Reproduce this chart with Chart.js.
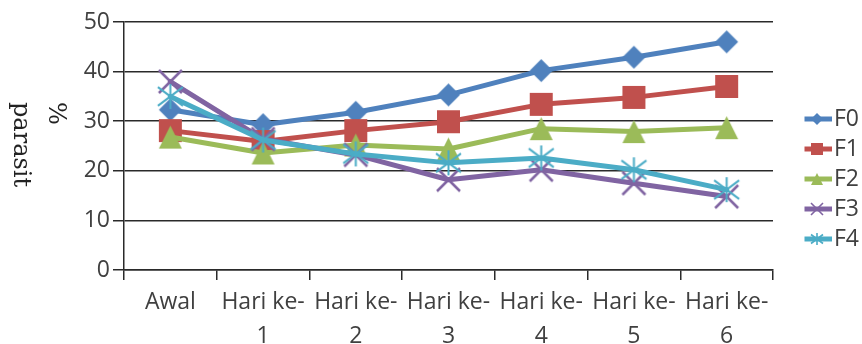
<!DOCTYPE html>
<html>
<head>
<meta charset="utf-8">
<title>% parasit</title>
<script src="https://cdn.jsdelivr.net/npm/chart.js@4/dist/chart.umd.min.js"></script>
<style>
  html, body { margin: 0; padding: 0; background: #ffffff; }
  canvas { display: block; }
</style>
</head>
<body>
<canvas id="chart" width="862" height="344"></canvas>
<script>
// ---- data ----
const categories = [['Awal'], ['Hari ke-', '1'], ['Hari ke-', '2'], ['Hari ke-', '3'],
                    ['Hari ke-', '4'], ['Hari ke-', '5'], ['Hari ke-', '6']];
const seriesNames = ['F0', 'F1', 'F2', 'F3', 'F4'];
const f0 = [32.3, 29.3, 31.8, 35.3, 40.2, 42.9, 46.0];
const f1 = [28.1, 25.9, 28.1, 29.9, 33.4, 34.8, 37.0];
const f2 = [26.8, 23.6, 25.2, 24.4, 28.5, 27.9, 28.7];
const f3 = [38.0, 26.4, 23.2, 18.2, 20.2, 17.5, 14.8];
const f4 = [35.0, 26.2, 23.4, 21.6, 22.6, 20.2, 16.2];
const yTickValues = [0, 10, 20, 30, 40, 50];
const axisTitleLines = ['%', 'parasit'];

// ---- styles ----
const seriesColors = ['#4F81BD', '#C0504D', '#9BBB59', '#8064A2', '#4BACC6'];
const markerShapes = ['diamond', 'square', 'triangle', 'x', 'star'];
const textColor = '#404040';
const ruleColor = '#2a2a2a';
const tickFont = { family: '"Open Sans", "Liberation Sans", sans-serif', size: 23 };

// Excel-like marker glyphs drawn onto small canvases, used as point styles
function markerCanvas(shape, color, size, stroke) {
  const pad = 3;
  const c = document.createElement('canvas');
  c.width = c.height = Math.ceil(size + pad * 2);
  const g = c.getContext('2d');
  const m = c.width / 2, h = size / 2;
  g.fillStyle = color;
  g.strokeStyle = color;
  g.lineWidth = stroke;
  g.beginPath();
  if (shape === 'diamond') {
    g.moveTo(m, m - h); g.lineTo(m + h, m); g.lineTo(m, m + h); g.lineTo(m - h, m);
    g.closePath(); g.fill();
  } else if (shape === 'square') {
    g.rect(m - h, m - h, size, size); g.fill();
  } else if (shape === 'triangle') {
    g.moveTo(m, m - h); g.lineTo(m + h, m + h); g.lineTo(m - h, m + h);
    g.closePath(); g.fill();
  } else if (shape === 'x') {
    g.moveTo(m - h, m - h); g.lineTo(m + h, m + h);
    g.moveTo(m + h, m - h); g.lineTo(m - h, m + h);
    g.stroke();
  } else if (shape === 'star') {
    g.moveTo(m, m - h); g.lineTo(m, m + h);
    g.moveTo(m - h, m - h * 0.75); g.lineTo(m + h, m + h * 0.75);
    g.moveTo(m + h, m - h * 0.75); g.lineTo(m - h, m + h * 0.75);
    g.stroke();
  }
  return c;
}

// legend sample: a short line segment with the marker in its middle
function legendIcon(shape, color) {
  const c = document.createElement('canvas');
  c.width = 30; c.height = 16;
  const g = c.getContext('2d');
  g.strokeStyle = color;
  g.lineWidth = 5;
  g.beginPath(); g.moveTo(0, 8); g.lineTo(30, 8); g.stroke();
  const mk = markerCanvas(shape, color, 12, 1.6);
  g.drawImage(mk, 15 - mk.width / 2, 8 - mk.height / 2);
  return c;
}

const pointImages = markerShapes.map((s, i) =>
  markerCanvas(s, seriesColors[i], s === 'star' ? 25 : 23, s === 'x' ? 2.5 : 2));
const legendImages = markerShapes.map((s, i) => legendIcon(s, seriesColors[i]));

const seriesData = [f0, f1, f2, f3, f4];
const datasets = seriesNames.map((name, i) => ({
  label: name,
  data: seriesData[i],
  borderColor: seriesColors[i],
  backgroundColor: seriesColors[i],
  borderWidth: 5,
  borderJoinStyle: 'round',
  borderCapStyle: 'round',
  pointStyle: pointImages[i],
  pointRadius: 12,
  pointHoverRadius: 12,
  tension: 0,
  clip: false,
  order: seriesNames.length - 1 - i   // later series drawn on top
}));

// vertical axis title, text turned clockwise
const axisTitlePlugin = {
  id: 'axisTitle',
  afterDraw(chart) {
    const ctx = chart.ctx;
    ctx.save();
    ctx.translate(49, 102);
    ctx.rotate(Math.PI / 2);
    ctx.font = '24px "DejaVu Serif", serif';
    ctx.fillStyle = '#222222';
    ctx.textAlign = 'left';
    ctx.textBaseline = 'alphabetic';
    ctx.fillText(axisTitleLines[0], 0, 0);
    ctx.fillText(axisTitleLines[1], 0, 35);
    ctx.restore();
  }
};

// legend box: reserve a fixed strip on the right and place the entries in it
const legendPlacement = {
  id: 'legendPlacement',
  beforeLayout(chart) {
    const lg = chart.legend;
    if (lg && !lg.__fixedFit) {
      const fit = lg.fit.bind(lg);
      lg.fit = function () { fit(); this.width = 89; };
      lg.__fixedFit = true;
    }
  },
  afterLayout(chart) {
    const lg = chart.legend;
    if (!lg) return;
    lg.left = 804.5;
    lg.right = 862;
    lg.top = 100.5;
    lg.bottom = 344;
  }
};

new Chart(document.getElementById('chart'), {
  type: 'line',
  data: { labels: categories, datasets },
  options: {
    responsive: false,
    animation: false,
    events: [],
    layout: { padding: { top: 22, left: 0, right: 0, bottom: 0 } },
    scales: {
      x: {
        type: 'category',
        offset: true,
        afterFit(scale) { scale.height = 74; },
        grid: {
          offset: true,
          drawOnChartArea: false,
          drawTicks: true,
          tickLength: 10,
          color: ruleColor,
          lineWidth: 1.5
        },
        border: { display: true, color: ruleColor, width: 1.5 },
        ticks: {
          color: textColor,
          font: { ...tickFont, lineHeight: 1.46 },
          padding: 6,
          autoSkip: false,
          maxRotation: 0,
          minRotation: 0
        }
      },
      y: {
        min: yTickValues[0],
        max: yTickValues[yTickValues.length - 1],
        afterFit(scale) { scale.width = 124; },
        afterBuildTicks(scale) { scale.ticks = yTickValues.map(v => ({ value: v })); },
        grid: {
          color: ruleColor,
          lineWidth: 1.5,
          drawTicks: true,
          tickLength: 11
        },
        border: { display: true, color: ruleColor, width: 1.5 },
        ticks: {
          color: textColor,
          font: tickFont,
          padding: 3
        }
      }
    },
    plugins: {
      tooltip: { enabled: false },
      title: { display: false },
      legend: {
        display: true,
        position: 'right',
        align: 'start',
        labels: {
          usePointStyle: true,
          pointStyleWidth: 11,
          padding: 7,
          color: textColor,
          font: tickFont,
          generateLabels(chart) {
            return chart.data.datasets.map((ds, i) => ({
              text: ds.label,
              pointStyle: legendImages[i],
              fillStyle: ds.backgroundColor,
              strokeStyle: ds.borderColor,
              lineWidth: 0,
              hidden: false,
              fontColor: textColor,
              datasetIndex: i
            }));
          }
        }
      }
    }
  },
  plugins: [axisTitlePlugin, legendPlacement]
});
</script>
</body>
</html>
